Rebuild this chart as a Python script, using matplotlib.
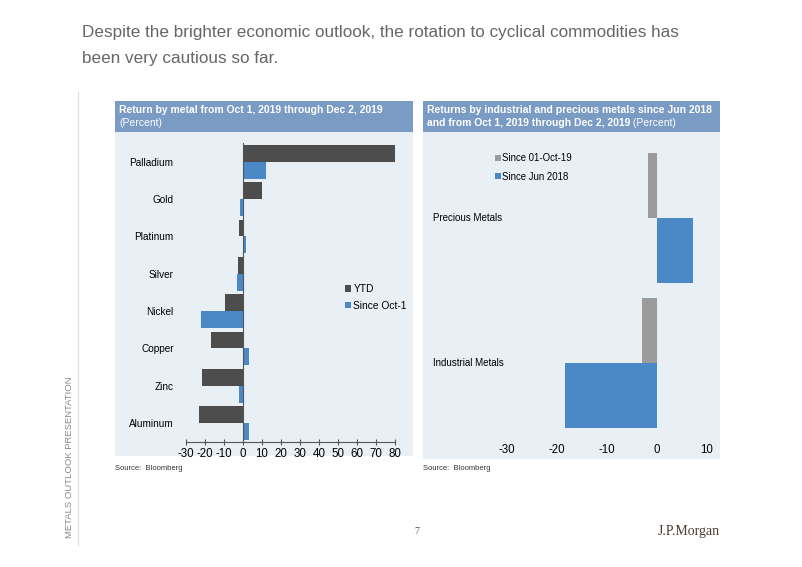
import matplotlib
matplotlib.use('Agg')
import matplotlib.pyplot as plt
from matplotlib.patches import Rectangle
from matplotlib.transforms import blended_transform_factory
import numpy as np

plt.rcParams['font.family'] = ['Liberation Sans', 'DejaVu Sans']
plt.rcParams['axes.unicode_minus'] = False

# Datos panel izquierdo
metals = ['Palladium', 'Gold', 'Platinum', 'Silver', 'Nickel', 'Copper', 'Zinc', 'Aluminum']
ytd = [80.0, 10.0, -2.3, -2.6, -9.7, -17.0, -21.8, -23.0]
since_oct1 = [12.1, -1.7, 1.4, -3.2, -21.9, 3.3, -2.3, 3.3]
left_ticks = [-30, -20, -10, 0, 10, 20, 30, 40, 50, 60, 70, 80]

# Datos panel derecho
groups = ['Precious Metals', 'Industrial Metals']
since_01oct19 = [-1.9, -3.0]
since_jun2018 = [7.1, -18.5]
right_ticks = [-30, -20, -10, 0, 10]

W, H = 802, 567
C_DARK = '#4d4d4d'
C_BLUE = '#4a88c6'
C_GRAY = '#9b9b9b'
C_HEAD = '#7a9bc4'
C_BODY = '#e9f0f5'


def fx(x):
    return x / W


def fy(y):
    return 1 - y / H


fig = plt.figure(figsize=(W / 100, H / 100), dpi=100)
fig.patch.set_facecolor('white')


def box(x0, y0, x1, y1, color):
    fig.add_artist(Rectangle((fx(x0), fy(y1)), fx(x1) - fx(x0), fy(y0) - fy(y1),
                             transform=fig.transFigure, facecolor=color,
                             edgecolor='none', zorder=-1))


# Paneles de fondo
box(115, 101, 413, 132, C_HEAD)
box(115, 132, 413, 456, C_BODY)
box(423, 101, 720, 132, C_HEAD)
box(423, 132, 720, 459, C_BODY)

# Titulo principal
fig.text(fx(82), fy(32), 'Despite the brighter economic outlook, the rotation to cyclical commodities has',
         fontsize=12.3, color='#666666', va='center', ha='left')
fig.text(fx(82), fy(59), 'been very cautious so far.',
         fontsize=12.3, color='#666666', va='center', ha='left')

# Encabezados
fig.text(fx(119), fy(110), 'Return by metal from Oct 1, 2019 through Dec 2, 2019',
         fontsize=7.5, color='white', fontweight='bold', va='center', ha='left')
fig.text(fx(119), fy(123), '(Percent)', fontsize=7.5, color='white', va='center', ha='left')

fig.text(fx(427), fy(110), 'Returns by industrial and precious metals since Jun 2018',
         fontsize=7.5, color='white', fontweight='bold', va='center', ha='left')
t2 = fig.text(fx(427), fy(123), 'and from Oct 1, 2019 through Dec 2, 2019',
              fontsize=7.5, color='white', fontweight='bold', va='center', ha='left')

# ---- Panel izquierdo ----
ax1 = fig.add_axes([fx(186), fy(441.7), fx(395) - fx(186), fy(142.7) - fy(441.7)])
ax1.set_facecolor('none')
n = len(metals)
pos = np.arange(n)[::-1]
h = 0.45
ax1.barh(pos + h / 2, ytd, height=h, color=C_DARK, label='YTD', zorder=2)
ax1.barh(pos - h / 2, since_oct1, height=h, color=C_BLUE, label='Since Oct-1', zorder=2)
ax1.axvline(0, color='#555555', lw=0.8, zorder=3)
ax1.set_xlim(-30, 80)
ax1.set_ylim(-0.5, 7.51)
ax1.set_xticks(left_ticks)
ax1.set_yticks(pos)
ax1.set_yticklabels(metals)
for s in ['top', 'right', 'left']:
    ax1.spines[s].set_visible(False)
ax1.spines['bottom'].set_color('#555555')
ax1.spines['bottom'].set_linewidth(0.8)
ax1.tick_params(axis='x', direction='inout', length=5, width=0.8, color='#555555',
                labelsize=8.3, pad=2)
ax1.tick_params(axis='y', length=0, labelsize=7.2, pad=9)
ax1.legend(loc='center left', bbox_to_anchor=(fx(340), fy(297.5)), bbox_transform=fig.transFigure,
           frameon=False, fontsize=7.4, handlelength=0.55, handleheight=0.55,
           handletextpad=0.25, labelspacing=0.65, borderpad=0)

fig.text(fx(115), fy(468), 'Source:  Bloomberg', fontsize=5.5, color='#333333', va='center', ha='left')

# ---- Panel derecho ----
ax2 = fig.add_axes([fx(507), fy(435.3), fx(707) - fx(507), fy(145.3) - fy(435.3)])
ax2.set_facecolor('none')
gpos = np.arange(len(groups))[::-1]
gh = 0.447
ax2.barh(gpos + gh / 2, since_01oct19, height=gh, color=C_GRAY, label='Since 01-Oct-19', zorder=2)
ax2.barh(gpos - gh / 2, since_jun2018, height=gh, color=C_BLUE, label='Since Jun 2018', zorder=2)
ax2.set_xlim(-30, 10)
ax2.set_ylim(-0.5, 1.5)
ax2.set_xticks(right_ticks)
ax2.set_yticks([])
for s in ax2.spines.values():
    s.set_visible(False)
ax2.tick_params(axis='x', length=0, labelsize=8.3, pad=6)
tr = blended_transform_factory(fig.transFigure, ax2.transData)
for g, p in zip(groups, gpos):
    ax2.text(fx(433), p, g, transform=tr, fontsize=7, va='center', ha='left', color='black')
ax2.legend(loc='center left', bbox_to_anchor=(fx(490), fy(167.5)), bbox_transform=fig.transFigure,
           frameon=False, fontsize=6.9, handlelength=0.6, handleheight=0.6,
           handletextpad=0.2, labelspacing=0.85, borderpad=0)

# "(Percent)" tras el texto en negrita
ax2.annotate(' (Percent)', xy=(1, 0.5), xycoords=t2, fontsize=7.5, color='white',
             va='center', ha='left', annotation_clip=False)

fig.text(fx(423), fy(468), 'Source:  Bloomberg', fontsize=5.5, color='#333333', va='center', ha='left')

# Elementos de pagina
fig.add_artist(plt.Line2D([fx(78), fx(78)], [fy(92), fy(545)], color='#dddddd', lw=0.8,
                          transform=fig.transFigure))
fig.text(fx(69), fy(457), 'METALS OUTLOOK PRESENTATION', rotation=90, fontsize=6.8,
         color='#888888', va='center', ha='center')
fig.text(fx(417), fy(532), '7', fontsize=7, color='#555555', va='center', ha='center',
         family='Liberation Serif')
fig.text(fx(720), fy(532), 'J.P.Morgan', fontsize=10, color='#4a3a30', va='center', ha='right',
         family='Liberation Serif')

fig.savefig('out.png', dpi=100)
